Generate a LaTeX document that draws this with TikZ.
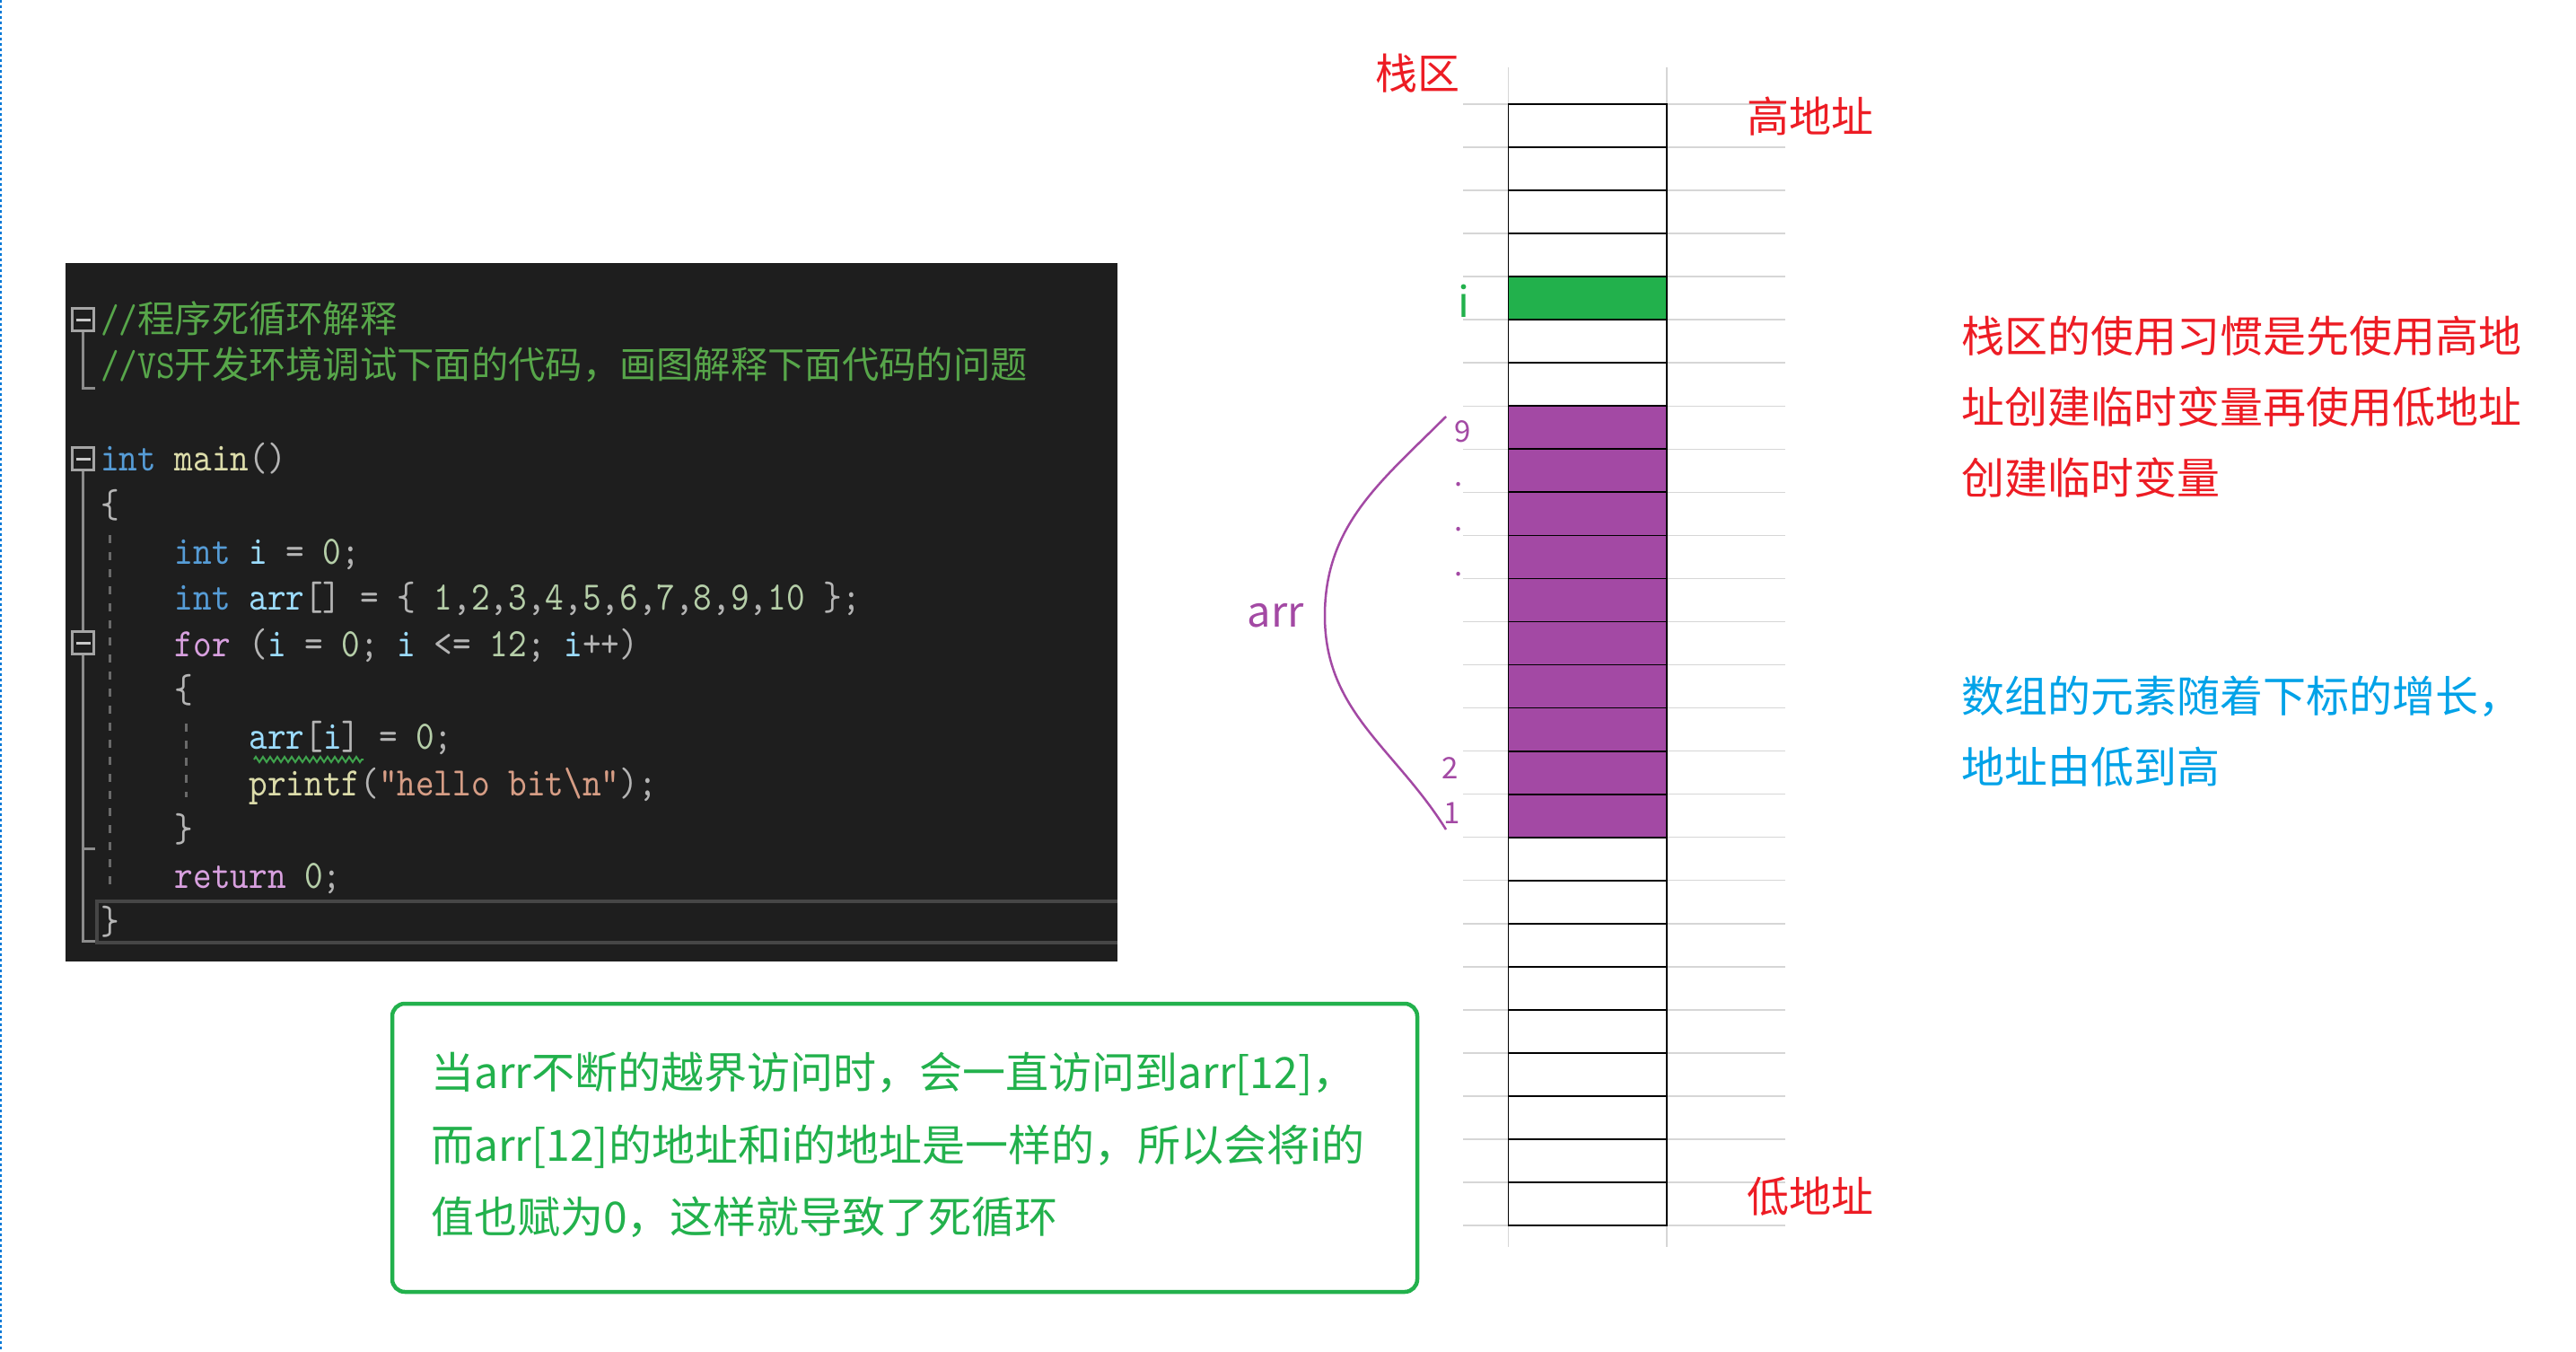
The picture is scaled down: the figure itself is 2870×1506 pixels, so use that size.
\documentclass[tikz,border=0pt]{standalone}
\usepackage{fontspec}
\usepackage{tikz}
\usetikzlibrary{decorations.pathmorphing}

\newfontfamily\cjk{Noto Sans CJK SC}
\newfontfamily\codefont[FakeStretch=0.874]{lmmono10-regular.otf}

\definecolor{vsbg}{HTML}{1E1E1E}
\definecolor{vscomment}{HTML}{57A64A}
\definecolor{vskey}{HTML}{569CD6}
\definecolor{vsctrl}{HTML}{D8A0DF}
\definecolor{vsvar}{HTML}{9CDCFE}
\definecolor{vsfunc}{HTML}{DCDCAA}
\definecolor{vsnum}{HTML}{B5CEA8}
\definecolor{vsstr}{HTML}{D69D85}
\definecolor{vspunct}{HTML}{B4B4B4}
\definecolor{vsfold}{HTML}{A5A5A5}
\definecolor{vsguide}{HTML}{6A6A6A}
\definecolor{vscurline}{HTML}{464646}
\definecolor{vssquig}{HTML}{3FA34D}
\definecolor{addrred}{HTML}{ED1C24}
\definecolor{igreen}{HTML}{22B14C}
\definecolor{arrpurple}{HTML}{A349A4}
\definecolor{growblue}{HTML}{00A2E8}
\definecolor{gridgray}{HTML}{D6D6D6}
\definecolor{edgeblue}{HTML}{0078D7}

% code colouring
\newcommand{\kw}[1]{\textcolor{vskey}{#1}}
\newcommand{\ctl}[1]{\textcolor{vsctrl}{#1}}
\newcommand{\vn}[1]{\textcolor{vsvar}{#1}}
\newcommand{\fcn}[1]{\textcolor{vsfunc}{#1}}
\newcommand{\nm}[1]{\textcolor{vsnum}{#1}}
\newcommand{\strg}[1]{\textcolor{vsstr}{#1}}
\newcommand{\pun}[1]{\textcolor{vspunct}{#1}}
\newcommand{\cmt}[1]{\textcolor{vscomment}{#1}}
\newcommand{\cmcn}[1]{{\cjk\fontsize{41.3}{50}\selectfont\color{vscomment}#1}}

\begin{document}
\begin{tikzpicture}[x=1pt, y=-1pt,
    codeln/.style={anchor=base west, inner sep=0pt, font=\codefont\fontsize{45}{50}\selectfont},
    foldbox/.style={draw=vsfold, line width=3pt, minimum size=24.4pt, inner sep=0pt,
      path picture={\draw[vsfold!60!white, line width=3pt]
        ([xshift=-8pt]path picture bounding box.center) -- ([xshift=8pt]path picture bounding box.center);}},
    foldln/.style={draw=vsfold!85!black, line width=3pt},
    guide/.style={draw=vsguide, line width=3pt, dash pattern=on 9pt off 10pt},
    cell/.style={draw=black, line width=1.8pt, minimum width=176.5pt, minimum height=48.04pt, inner sep=0pt, fill=white},
    gridln/.style={draw=gridgray, line width=1.5pt},
    lbl/.style={anchor=base, inner sep=0pt, font=\cjk\fontsize{47}{56}\selectfont},
    para/.style={anchor=base west, inner sep=0pt, font=\cjk\fontsize{48}{56}\selectfont},
    idx/.style={anchor=base, inner sep=0pt, text=arrpurple, font=\cjk\fontsize{33}{40}\selectfont}]
  \useasboundingbox (0,0) rectangle (2870,1506);
  \fill[white] (0,0) rectangle (2870,1506);
  \draw[edgeblue, line width=2pt, dash pattern=on 3pt off 3pt] (1,0) -- (1,1506);

  % Code window
  \fill[vsbg] (73,293) rectangle (1245,1071);
  \draw[vscurline, line width=4pt] (1245,1004) -- (108,1004) -- (108,1050) -- (1245,1050);

  % Fold markers and outline lines
  \node[foldbox] (fA) at (92.5,356) {};
  \node[foldbox] (fB) at (92.5,511) {};
  \node[foldbox] (fC) at (92.5,716) {};
  \draw[foldln] (fA.south) -- (92.5,432) -- (106,432);
  \draw[foldln] (fB.south) -- (fC.north);
  \draw[foldln] (fC.south) -- (92.5,1048) -- (106,1048);
  \draw[foldln] (92.5,945) -- (106,945);
  \draw[guide] (122,596) -- (122,985);
  \draw[guide] (207,806) -- (207,888);

  % Code lines
  \node[codeln] (cmtA) at (112,370) {\cmt{//}\cmcn{程序死循环解释}};
  \node[codeln] (cmtB) at (112,421.6) {\cmt{//VS}\cmcn{开发环境调试下面的代码，画图解释下面代码的问题}};
  \node[codeln] (mainln) at (112,524.8) {\kw{int} \fcn{main}\pun{()}};
  \node[codeln] (openA) at (112,576.4) {\pun{\{}};
  \node[codeln] (decli) at (194.6,628) {\kw{int} \vn{i} \pun{=} \nm{0}\pun{;}};
  \node[codeln] (declarr) at (194.6,679.6) {\kw{int} \vn{arr}\pun{[]} \pun{=} \pun{\{} \nm{1}\pun{,}\nm{2}\pun{,}\nm{3}\pun{,}\nm{4}\pun{,}\nm{5}\pun{,}\nm{6}\pun{,}\nm{7}\pun{,}\nm{8}\pun{,}\nm{9}\pun{,}\nm{10} \pun{\};}};
  \node[codeln] (forln) at (194.6,731.2) {\ctl{for} \pun{(}\vn{i} \pun{=} \nm{0}\pun{;} \vn{i} \pun{<=} \nm{12}\pun{;} \vn{i}\pun{++)}};
  \node[codeln] (openB) at (194.6,782.8) {\pun{\{}};
  \node[codeln] (setln) at (277.3,834.4) {\vn{arr}\pun{[}\vn{i}\pun{]} \pun{=} \nm{0}\pun{;}};
  \node[codeln] (println) at (277.3,886) {\fcn{printf}\pun{(}\strg{"hello bit\textbackslash n"}\pun{);}};
  \node[codeln] (closeB) at (194.6,937.6) {\pun{\}}};
  \node[codeln] (retln) at (194.6,989.2) {\ctl{return} \nm{0}\pun{;}};
  \node[codeln] (closeA) at (112,1040.8) {\pun{\}}};
  \draw[vssquig, line width=2pt, decorate, decoration={zigzag, segment length=8pt, amplitude=3pt}] (283,846) -- (405,846);

  % Grid lines behind the stack
  \draw[gridln] (1680.5,75) -- (1680.5,1389);
  \draw[gridln] (1857,75) -- (1857,1389);
  \foreach \r in {0,...,26}
    \draw[gridln] (1630,{116+48.04*\r}) -- (1989,{116+48.04*\r});

  % Stack cells
  \foreach \r in {0,...,25}
    \node[cell] (c\r) at (1768.75,{140.02+48.04*\r}) {};
  \node[cell, fill=igreen] (ci) at (c4) {};
  \foreach \r in {7,...,16}
    \node[cell, fill=arrpurple] (ca\r) at (c\r) {};

  % Stack labels
  \node[lbl, text=addrred] (zhanqu) at (1579,100) {栈区};
  \node[lbl, text=addrred] (highaddr) at (2017,148) {高地址};
  \node[lbl, text=addrred] (lowaddr) at (2017,1350) {低地址};
  \node[lbl, text=igreen] (ilabel) at (1631,353) {i};
  \node[lbl, text=arrpurple] (arrlabel) at (1421,698) {arr};

  % Array brace and indices
  \coordinate (arrtop) at (1611,464);
  \coordinate (arrtip) at (1476,686);
  \coordinate (arrbot) at (1611,924);
  \draw[arrpurple, line width=2.5pt] (arrtop) to[out=225,in=90] (arrtip) to[out=-90,in=122] (arrbot);
  \node[idx] (idx9) at (1630,492) {9};
  \node[idx] (dotA) at (1625,541) {.};
  \node[idx] (dotB) at (1625,591) {.};
  \node[idx] (dotC) at (1625,641) {.};
  \node[idx] (idx2) at (1616,867) {2};
  \node[idx] (idx1) at (1618,917) {1};

  % Notes on the right
  \node[para, text=addrred] (ruleA) at (2185,392) {栈区的使用习惯是先使用高地};
  \node[para, text=addrred] (ruleB) at (2185,471) {址创建临时变量再使用低地址};
  \node[para, text=addrred] (ruleC) at (2185,550) {创建临时变量};
  \node[para, text=growblue] (growA) at (2185,793) {数组的元素随着下标的增长，};
  \node[para, text=growblue] (growB) at (2185,872) {地址由低到高};

  % Explanation box
  \draw[igreen, line width=4.5pt, rounded corners=14pt] (437,1118) rectangle (1579,1439);
  \node[para, text=igreen] (noteA) at (480,1212) {当arr不断的越界访问时，会一直访问到arr[12]，};
  \node[para, text=igreen] (noteB) at (480,1293) {而arr[12]的地址和i的地址是一样的，所以会将i的};
  \node[para, text=igreen] (noteC) at (480,1373) {值也赋为0，这样就导致了死循环};
\end{tikzpicture}
\end{document}
